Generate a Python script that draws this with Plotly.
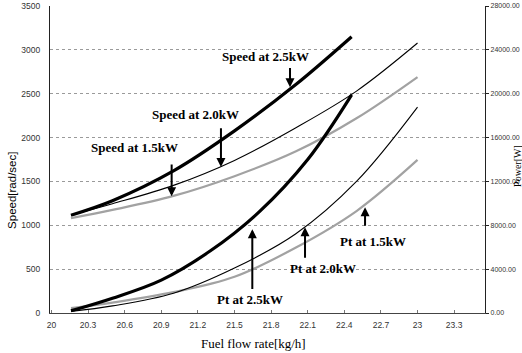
import plotly.graph_objects as go

# ---------------- data ----------------
speed_25_x = [20.16, 20.5, 21.0, 21.5, 22.0, 22.46]
speed_25_y = [1115, 1280, 1620, 2076, 2602, 3150]

speed_20_x = [20.16, 20.5, 21.0, 21.5, 22.0, 22.5, 23.0]
speed_20_y = [1115, 1245, 1455, 1740, 2110, 2530, 3078]

speed_15_x = [20.16, 20.5, 21.0, 21.5, 22.0, 22.5, 23.0]
speed_15_y = [1081, 1175, 1335, 1560, 1840, 2220, 2690]

pt_25_x = [20.16, 20.5, 20.9, 21.3, 21.7, 22.1, 22.46]
pt_25_y = [200, 1350, 3000, 5650, 9200, 14000, 19900]

pt_20_x = [20.16, 20.5, 21.0, 21.5, 22.0, 22.5, 23.0]
pt_20_y = [150, 650, 1800, 4100, 7200, 12000, 18780]

pt_15_x = [20.16, 20.5, 21.0, 21.5, 22.0, 22.5, 23.0]
pt_15_y = [440, 950, 1900, 3300, 5950, 9300, 13960]

x_tick_vals = [20, 20.3, 20.6, 20.9, 21.2, 21.5, 21.8, 22.1, 22.4, 22.7, 23, 23.3]
x_tick_labels = ["20", "20.3", "20.6", "20.9", "21.2", "21.5", "21.8", "22.1",
                 "22.4", "22.7", "23", "23.3"]
speed_ticks = [0, 500, 1000, 1500, 2000, 2500, 3000, 3500]
power_ticks = [0, 4000, 8000, 12000, 16000, 20000, 24000, 28000]

# ---------------- styles ----------------
THICK = dict(color="black", width=3.2, shape="spline", smoothing=1.0)
THIN = dict(color="black", width=1.1, shape="spline", smoothing=1.0)
GRAY = dict(color="#a2a2a2", width=2.2, shape="spline", smoothing=1.0)

fig = go.Figure()
fig.add_trace(go.Scatter(x=speed_25_x, y=speed_25_y, mode="lines", line=THICK, yaxis="y"))
fig.add_trace(go.Scatter(x=speed_20_x, y=speed_20_y, mode="lines", line=THIN, yaxis="y"))
fig.add_trace(go.Scatter(x=speed_15_x, y=speed_15_y, mode="lines", line=GRAY, yaxis="y"))
fig.add_trace(go.Scatter(x=pt_15_x, y=pt_15_y, mode="lines", line=GRAY, yaxis="y2"))
fig.add_trace(go.Scatter(x=pt_20_x, y=pt_20_y, mode="lines", line=THIN, yaxis="y2"))
fig.add_trace(go.Scatter(x=pt_25_x, y=pt_25_y, mode="lines", line=THICK, yaxis="y2"))

tickfont = dict(family="Liberation Sans, Arial, sans-serif", size=8.5, color="#333333")
tickfont_r = dict(family="Liberation Sans, Arial, sans-serif", size=7.0, color="#333333")
labfont = dict(family="Liberation Serif, Times New Roman, serif", size=13,
               color="black", weight="bold")

# labels (x, y in data coords of speed axis)
labels = [
    ("Speed at 2.5kW", 21.754, 2923),
    ("Speed at 2.0kW", 21.184, 2259),
    ("Speed at 1.5kW", 20.680, 1882),
    ("Pt at 2.5kW", 21.627, 154),
    ("Pt at 2.0kW", 22.225, 509),
    ("Pt at 1.5kW", 22.639, 818),
]
# arrows: tip (x, y), tail (x, y)
arrows = [
    (21.955, 2575, 21.955, 2809),
    (21.389, 1665, 21.389, 2122),
    (20.985, 1330, 20.985, 1710),
    (21.646, 955, 21.646, 257),
    (22.078, 978, 22.078, 612),
    (22.570, 1207, 22.570, 978),
]

annotations = []
for t, x, y in labels:
    annotations.append(dict(text=t, x=x, y=y, xref="x", yref="y", showarrow=False,
                            font=labfont, xanchor="center", yanchor="middle"))
for tx, ty, ax, ay in arrows:
    annotations.append(dict(text="", x=tx, y=ty, ax=ax, ay=ay, xref="x", yref="y",
                            axref="x", ayref="y", showarrow=True, arrowhead=2,
                            arrowsize=0.9, arrowwidth=2, arrowcolor="black",
                            standoff=0, startstandoff=0))

# axis titles
annotations.append(dict(text="Speed[rad/sec]", xref="paper", yref="paper", x=-0.088, y=0.40,
                        textangle=-90, showarrow=False, xanchor="center", yanchor="middle",
                        font=dict(family="Liberation Sans, Arial, sans-serif", size=11.5, color="black")))
annotations.append(dict(text="Power[W]", xref="paper", yref="paper", x=1.075, y=0.478,
                        textangle=-90, showarrow=False, xanchor="center", yanchor="middle",
                        font=dict(family="Liberation Serif, Times New Roman, serif", size=10, color="black")))
annotations.append(dict(text="Fuel flow rate[kg/h]", xref="paper", yref="paper", x=0.468, y=-0.0985,
                        showarrow=False, xanchor="center", yanchor="middle",
                        font=dict(family="Liberation Serif, Times New Roman, serif", size=13, color="black")))

fig.update_layout(
    width=522, height=353,
    margin=dict(l=50, r=37, t=6, b=40, pad=0),
    paper_bgcolor="white", plot_bgcolor="white",
    showlegend=False,
    xaxis=dict(range=[19.988, 23.553], tickvals=x_tick_vals, ticktext=x_tick_labels,
               showgrid=False, zeroline=False, showline=True, linecolor="#444444", linewidth=1,
               ticks="inside", ticklen=3, tickcolor="#777777", tickfont=tickfont,
               ticklabelstandoff=4, automargin=False),
    yaxis=dict(range=[0, 3500], tickvals=speed_ticks, showgrid=True, gridcolor="#9a9a9a",
               griddash="dot", gridwidth=1, zeroline=False, showline=True, linecolor="#222222",
               linewidth=1.2, ticks="", tickfont=tickfont, ticklabelstandoff=7, automargin=False),
    yaxis2=dict(range=[0, 28000], tickvals=power_ticks, tickformat=".2f", overlaying="y",
                side="right", showgrid=False, zeroline=False, showline=True,
                linecolor="#222222", linewidth=1.2, ticks="outside", ticklen=3,
                tickcolor="#222222", tickfont=tickfont_r, ticklabelstandoff=0, automargin=False),
    annotations=annotations,
)

fig.write_html("out.html")
